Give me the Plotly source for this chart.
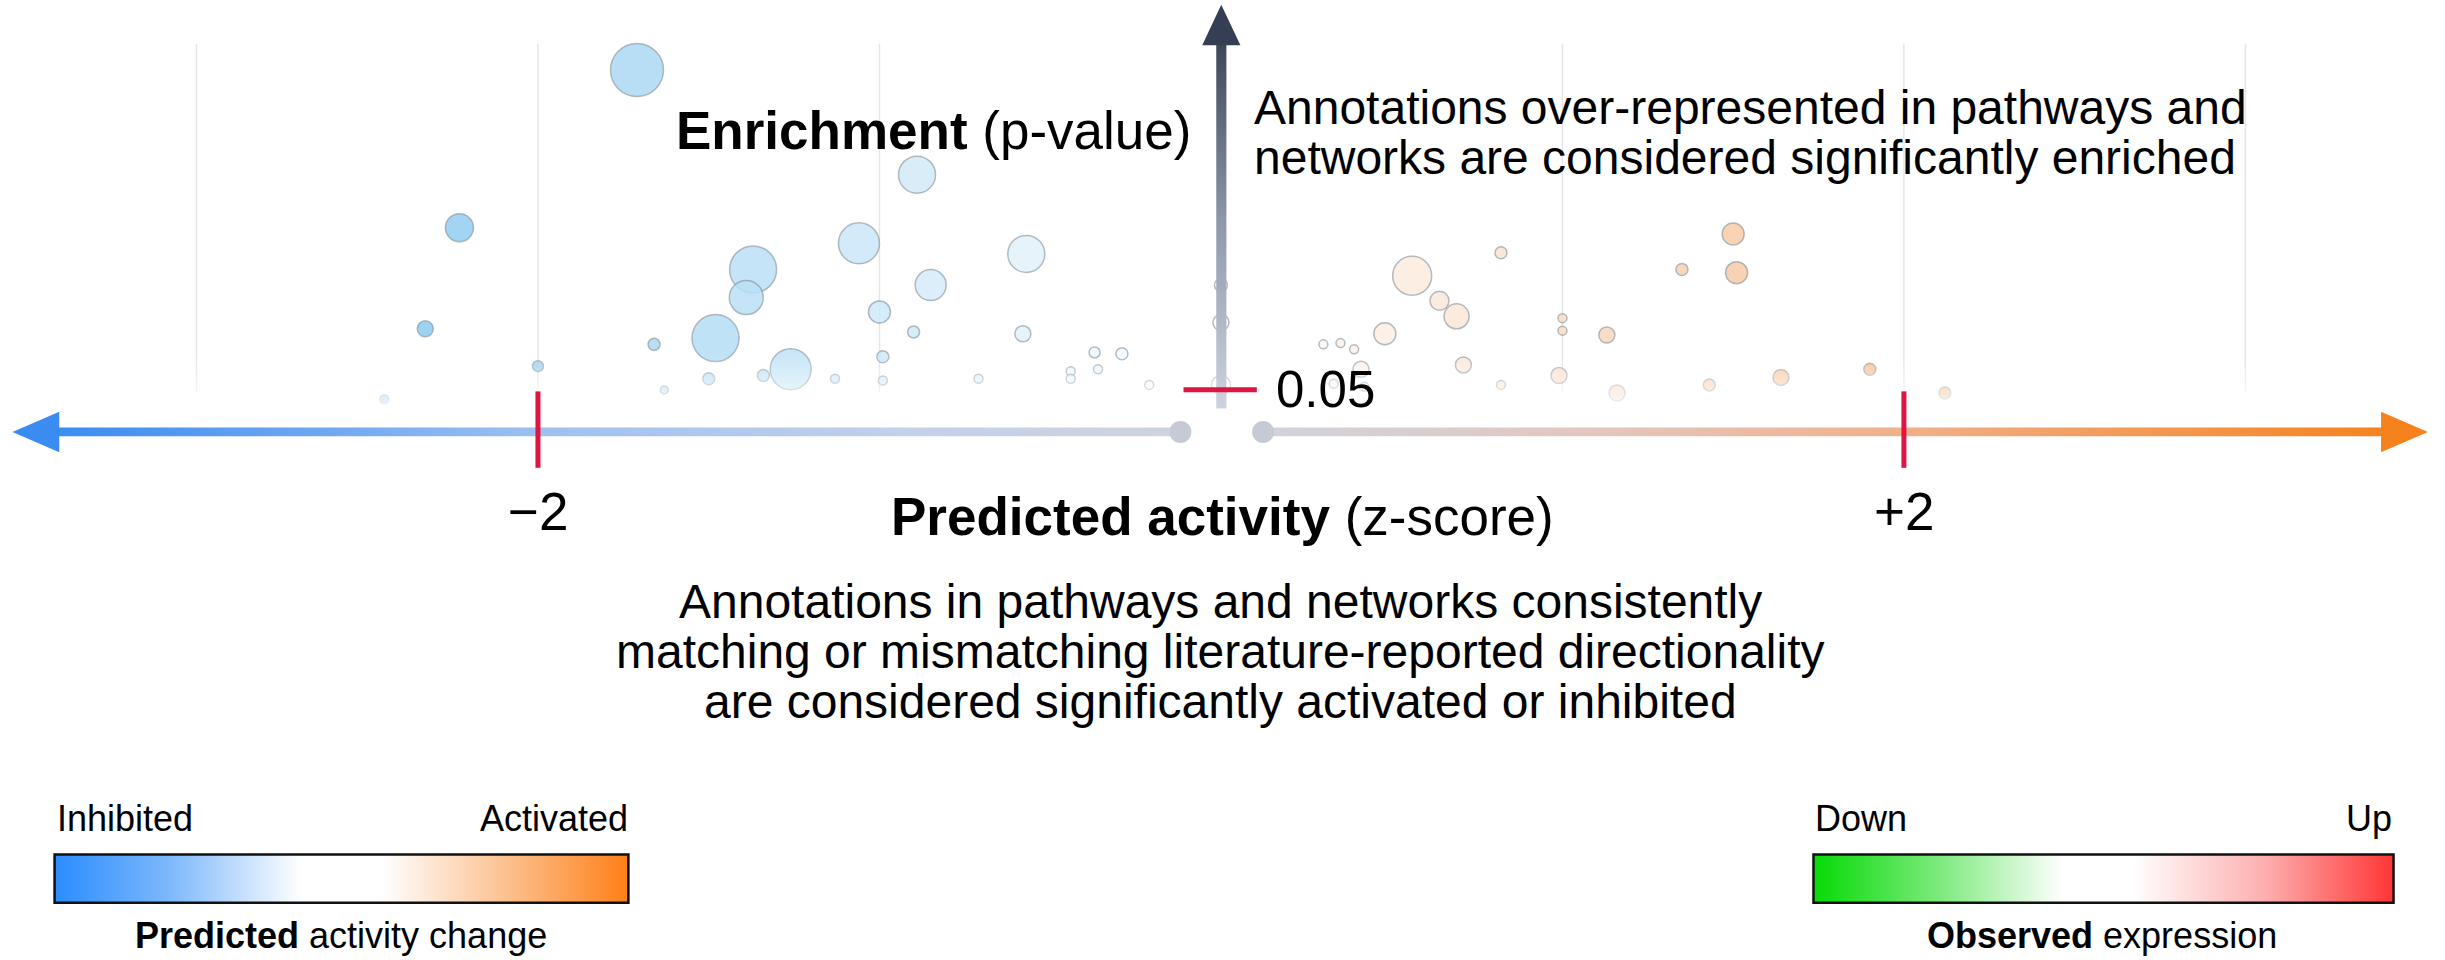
import math
import plotly.graph_objects as go

# ---------------- data ----------------
# predicted activity z-score of each annotation
z_score = [-1.71, -2.23, -2.33, -2.00, -2.45, -1.66, -1.50, -1.63, -1.37, -1.39,
           -1.48, -1.34, -1.26, -1.13, -1.06, -1.00, -0.99, -0.99, -0.89, -0.85,
           -0.90, -0.71, -0.57, -0.58, -0.44, -0.44, -0.37, -0.36, -0.29, -0.21,
           0.00, 0.00, 0.00,
           0.56, 0.64, 0.69, 0.48, 0.30, 0.35, 0.39, 0.41, 0.33, 0.42,
           0.82, 1.00, 1.00, 1.13, 0.71, 0.82, 0.99, 1.16, 1.35, 1.50,
           1.51, 1.43, 1.64, 1.90, 2.12]
# enrichment, -log10(p-value)
neg_log10_p = [6.43, 3.90, 2.28, 1.68, 1.15, 2.03, 1.48, 1.30, 3.23, 2.78,
               2.13, 1.53, 1.63, 1.48, 3.65, 2.55, 1.83, 1.45, 4.75, 2.98,
               2.23, 1.48, 3.48, 2.20, 1.60, 1.48, 1.90, 1.63, 1.88, 1.38,
               2.98, 2.38, 1.38,
               3.13, 2.73, 2.48, 2.20, 2.03, 2.05, 1.95, 1.63, 1.40, 1.35,
               3.50, 2.45, 2.25, 2.18, 1.70, 1.38, 1.53, 1.25, 3.23, 3.80,
               3.18, 1.38, 1.50, 1.63, 1.25]
# bubble size (number of molecules, drawn as diameter)
bubble_size = [53, 28, 16, 11, 9, 12, 12, 8, 47, 34,
               47, 12, 41, 9, 41, 22, 12, 9, 37, 31,
               12, 9, 37, 16, 9, 9, 11, 9, 12, 9,
               13, 16, 19,
               39, 19, 25, 22, 9, 9, 9, 16, 9, 9,
               12, 9, 9, 16, 16, 9, 16, 16, 12, 22,
               22, 12, 16, 12, 12]

z_ticks = [-2, 2]
z_tick_text = ["\u22122", "+2"]
grid_z = [-3, -2, -1, 1, 2, 3]
p_threshold = 0.05

# ---------------- geometry helpers (layout only) ----------------
W, H = 2445, 960
OW = 1568.0
OH = H * OW / W


def X(o):  # horizontal layout position -> z-score
    return (o - 783) / 219.0


def Y(o):  # vertical layout position -> -log10(p)
    return -math.log10(p_threshold) + (250 - o) / 40.0


def PX(o):
    return o / OW


def PY(o):
    return 1 - o / OH


FONT = "Liberation Sans, Arial, Helvetica, sans-serif"
fig = go.Figure()

# grid lines
shapes = []
for g in grid_z:
    shapes.append(dict(type="line", xref="x", yref="y", x0=g, x1=g, y0=Y(252), y1=Y(28),
                       line=dict(color="#e6e6e6", width=1.5), layer="below"))

# bubbles
pastel = [[0, "#6cbcec"], [0.5, "#ffffff"], [1, "#f09850"]]
fig.add_trace(go.Scatter(
    x=z_score, y=neg_log10_p, mode="markers", hoverinfo="skip",
    marker=dict(size=bubble_size, sizemode="diameter", color=z_score, colorscale=pastel,
                cmin=-3, cmax=3, opacity=0.85,
                line=dict(color="rgba(120,135,145,0.65)", width=1.5)),
))

# soft white fade at the bottom of the bubble field
fig.add_trace(go.Scatter(
    x=[X(120), X(1460), X(1460), X(120), X(120)],
    y=[Y(262), Y(262), Y(228), Y(228), Y(262)],
    mode="lines", fill="toself", line=dict(width=0), hoverinfo="skip",
    fillgradient=dict(type="vertical",
                      colorscale=[[0, "rgba(255,255,255,0.85)"], [1, "rgba(255,255,255,0)"]]),
))

# horizontal z-score arrow
ay = 277
hw = 2.8
fig.add_trace(go.Scatter(
    x=[X(34), X(757), X(757), X(34), X(34)],
    y=[Y(ay + hw), Y(ay + hw), Y(ay - hw), Y(ay - hw), Y(ay + hw)],
    mode="lines", fill="toself", line=dict(width=0), hoverinfo="skip",
    fillgradient=dict(type="horizontal",
                      colorscale=[[0, "#3a8cf0"], [0.22, "#6aa5f0"], [0.43, "#9dc0f0"],
                                  [0.75, "#c2d0ea"], [1, "#cfd3de"]]),
))
fig.add_trace(go.Scatter(
    x=[X(810), X(1530), X(1530), X(810), X(810)],
    y=[Y(ay + hw), Y(ay + hw), Y(ay - hw), Y(ay - hw), Y(ay + hw)],
    mode="lines", fill="toself", line=dict(width=0), hoverinfo="skip",
    fillgradient=dict(type="horizontal",
                      colorscale=[[0, "#d0d3dc"], [0.3, "#e3c6be"], [0.57, "#f0b08a"],
                                  [1, "#f6821e"]]),
))
fig.add_trace(go.Scatter(
    x=[X(8), X(38), X(38), X(8)], y=[Y(ay), Y(ay - 13), Y(ay + 13), Y(ay)],
    mode="lines", fill="toself", fillcolor="#3a8cf0", line=dict(width=0), hoverinfo="skip"))
fig.add_trace(go.Scatter(
    x=[X(1557), X(1527), X(1527), X(1557)], y=[Y(ay), Y(ay - 13), Y(ay + 13), Y(ay)],
    mode="lines", fill="toself", fillcolor="#f6821e", line=dict(width=0), hoverinfo="skip"))
fig.add_trace(go.Scatter(
    x=[X(757), X(810)], y=[Y(ay), Y(ay)], mode="markers", hoverinfo="skip",
    marker=dict(size=22, color="#c6cad5", line=dict(width=0))))

# vertical enrichment arrow
fig.add_trace(go.Scatter(
    x=[X(780), X(786.5), X(786.5), X(780), X(780)],
    y=[Y(262), Y(262), Y(26), Y(26), Y(262)],
    mode="lines", fill="toself", line=dict(width=0), hoverinfo="skip",
    fillgradient=dict(type="vertical",
                      colorscale=[[0, "#cdd3de"], [0.5, "#9099ac"], [1, "#3d4559"]]),
))
fig.add_trace(go.Scatter(
    x=[X(783.2), X(771), X(795.5), X(783.2)], y=[Y(3), Y(29), Y(29), Y(3)],
    mode="lines", fill="toself", fillcolor="#363e53", line=dict(width=0), hoverinfo="skip"))

# red threshold ticks
for t in z_ticks:
    shapes.append(dict(type="line", xref="x", yref="y", x0=t, x1=t, y0=Y(251), y1=Y(300),
                       line=dict(color="#de1443", width=5), layer="above"))
shapes.append(dict(type="line", xref="x", yref="y", x0=X(759), x1=X(806),
                   y0=-math.log10(p_threshold), y1=-math.log10(p_threshold),
                   line=dict(color="#de1443", width=5), layer="above"))

# legend colour bars
bars = [
    ("x2", "y2", 35, 403,
     [[0, "#2b8cff"], [0.2, "#7db8fb"], [0.43, "#ffffff"], [0.57, "#ffffff"],
      [0.78, "#fcc393"], [1, "#ff7f17"]]),
    ("x3", "y3", 1163, 1535,
     [[0, "#06da06"], [0.22, "#7fea7f"], [0.43, "#ffffff"], [0.55, "#ffffff"],
      [0.78, "#fdaeae"], [1, "#ff3535"]]),
]
for xa, ya, x0, x1, cs in bars:
    fig.add_trace(go.Scatter(
        x=[0, 1, 1, 0, 0], y=[0, 0, 1, 1, 0], xaxis=xa, yaxis=ya,
        mode="lines", fill="toself", line=dict(width=0), hoverinfo="skip",
        fillgradient=dict(type="horizontal", colorscale=cs)))
    shapes.append(dict(type="rect", xref="paper", yref="paper",
                       x0=PX(x0), x1=PX(x1), y0=PY(579), y1=PY(548),
                       line=dict(color="#111111", width=2.5), fillcolor="rgba(0,0,0,0)",
                       layer="above"))

# ---------------- text ----------------
ann = []


def label(text, xo, yo, size, xanchor="center"):
    ann.append(dict(text=text, x=PX(xo), y=PY(yo), xref="paper", yref="paper",
                    showarrow=False, xanchor=xanchor, yanchor="middle",
                    font=dict(family=FONT, size=size, color="#000000")))


label("<b>Enrichment</b> (p-value)", 765, 84, 53, "right")
label("Annotations over-represented in pathways and", 803, 69, 48, "left")
label("networks are considered significantly enriched", 803, 101, 48, "left")
label("0.05", 817, 250, 51, "left")
for t, tt in zip(z_ticks, z_tick_text):
    label(tt, 783 + 219 * t, 328, 53)
label("<b>Predicted activity</b> (z-score)", 784, 331, 53)
label("Annotations in pathways and networks consistently", 783, 386, 48)
label("matching or mismatching literature-reported directionality", 783, 418, 48)
label("are considered significantly activated or inhibited", 783, 450, 48)
label("Inhibited", 35, 525, 36, "left")
label("Activated", 404, 525, 36, "right")
label("<b>Predicted</b> activity change", 219, 600, 36)
label("Down", 1163, 525, 36, "left")
label("Up", 1535, 525, 36, "right")
label("<b>Observed</b> expression", 1348, 600, 36)

hidden = dict(visible=False, fixedrange=True)
fig.update_layout(
    width=W, height=H, margin=dict(l=0, r=0, t=0, b=0),
    paper_bgcolor="white", plot_bgcolor="white", showlegend=False,
    xaxis=dict(range=[X(0), X(OW)], domain=[0, 1], **hidden),
    yaxis=dict(range=[Y(OH), Y(0)], domain=[0, 1], **hidden),
    xaxis2=dict(range=[0, 1], domain=[PX(35), PX(403)], anchor="y2", **hidden),
    yaxis2=dict(range=[0, 1], domain=[PY(579), PY(548)], anchor="x2", **hidden),
    xaxis3=dict(range=[0, 1], domain=[PX(1163), PX(1535)], anchor="y3", **hidden),
    yaxis3=dict(range=[0, 1], domain=[PY(579), PY(548)], anchor="x3", **hidden),
    shapes=shapes, annotations=ann,
)

fig.write_html(
    "out.html",
    config={"displayModeBar": False},
    post_script="document.body.style.margin='0';document.body.style.padding='0';"
                "document.body.style.overflow='hidden';",
)
